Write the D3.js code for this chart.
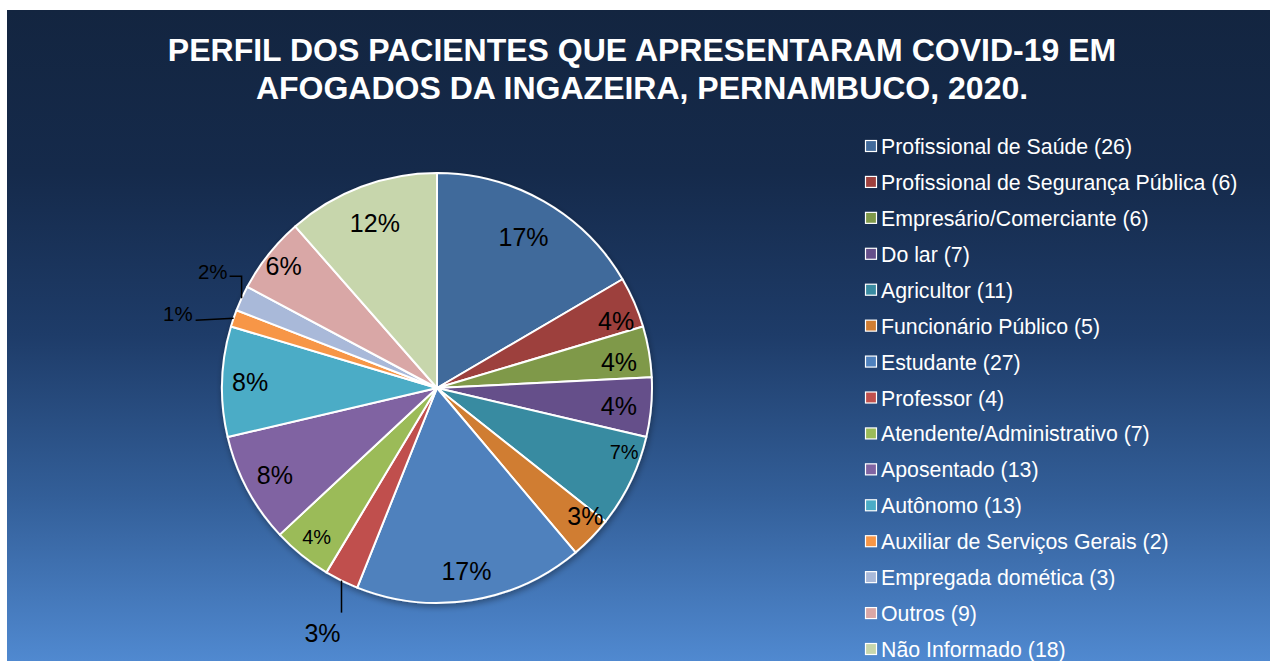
<!DOCTYPE html>
<html>
<head>
<meta charset="utf-8">
<script src="https://cdn.jsdelivr.net/npm/d3@7"></script>
<style>
  html, body { margin: 0; padding: 0; background: #ffffff; }
  svg { display: block; }
  text { font-family: "Liberation Sans", Arial, sans-serif; }
</style>
</head>
<body>
<svg id="chart" width="1270" height="661"></svg>
<script>
// data
var categories = ["Profissional de Saúde", "Profissional de Segurança Pública", "Empresário/Comerciante",
    "Do lar", "Agricultor", "Funcionário Público", "Estudante", "Professor", "Atendente/Administrativo",
    "Aposentado", "Autônomo", "Auxiliar de Serviços Gerais", "Empregada domética", "Outros", "Não Informado"];
var counts = [26, 6, 6, 7, 11, 5, 27, 4, 7, 13, 13, 2, 3, 9, 18];
var pctLabels = ["17%", "4%", "4%", "4%", "7%", "3%", "17%", "3%", "4%", "8%", "8%", "1%", "2%", "6%", "12%"];
var titleLines = ["PERFIL DOS PACIENTES QUE APRESENTARAM COVID-19 EM", "AFOGADOS DA INGAZEIRA, PERNAMBUCO, 2020."];

var colors = ["#416a9b", "#9d403d", "#7f994a", "#654f8a", "#398ba1", "#d07d32", "#4f81bd", "#c0504d",
    "#9bbb59", "#8064a2", "#4bacc6", "#f79646", "#a9b9d9", "#d9a7a6", "#c7d6ac"];

// label placement (excel best fit, roughly)
var labelRadius = [0.81, 0.89, 0.855, 0.85, 0.92, 0.91, 0.86, 1, 0.89, 0.855, 0.87, 1, 1, 0.91, 0.82];
var labelShift = [0, 0.05, 0.03, 0.01, -0.12, -0.06, 0, 0, 0, 0, 0, 0, 0, 0, 0]; // radians
var smallLabels = [4, 8, 11, 12];

var svg = d3.select("#chart");
var W = 1270, H = 661;

var defs = svg.append("defs");
var grad = defs.append("linearGradient")
    .attr("id", "bg")
    .attr("x1", 0).attr("y1", 0).attr("x2", 0).attr("y2", 1);
[[0, "#132540"], [0.25, "#152a4b"], [0.5, "#1e3c69"], [0.75, "#335f99"], [1, "#5089d0"]].forEach(function(s) {
    grad.append("stop").attr("offset", s[0]).attr("stop-color", s[1]);
});
var shadow = defs.append("filter").attr("id", "shadow")
    .attr("x", "-10%").attr("y", "-10%").attr("width", "120%").attr("height", "120%");
shadow.append("feDropShadow")
    .attr("dx", 1).attr("dy", 3).attr("stdDeviation", 3)
    .attr("flood-color", "#000").attr("flood-opacity", 0.35);

svg.append("rect")
    .attr("x", 7).attr("y", 10)
    .attr("width", W - 7).attr("height", H - 10)
    .attr("fill", "url(#bg)");

// title
svg.append("g").selectAll("text")
    .data(titleLines)
    .join("text")
    .attr("x", 642)
    .attr("y", function(d, i) { return 61 + i * 38; })
    .attr("text-anchor", "middle")
    .attr("fill", "#ffffff")
    .style("font-size", "32px")
    .style("font-weight", "bold")
    .text(function(d) { return d; });

// pie
var cx = 437, cy = 388, r = 215;
var pie = d3.pie().sort(null).value(function(d) { return d; });
var arcs = pie(counts);
var arc = d3.arc().innerRadius(0).outerRadius(r);

var g = svg.append("g").attr("transform", "translate(" + cx + "," + cy + ")");

g.append("g")
    .attr("filter", "url(#shadow)")
    .selectAll("path")
    .data(arcs)
    .join("path")
    .attr("d", arc)
    .attr("fill", function(d, i) { return colors[i]; })
    .attr("stroke", "#ffffff")
    .attr("stroke-width", 2)
    .attr("stroke-linejoin", "round");

function midAngle(d) { return (d.startAngle + d.endAngle) / 2; }
function polar(a, rad) { return [Math.sin(a) * rad, -Math.cos(a) * rad]; }

var inside = arcs.filter(function(d, i) { return [7, 11, 12].indexOf(i) < 0; });

g.append("g").selectAll("text")
    .data(inside)
    .join("text")
    .attr("transform", function(d) {
        var p = polar(midAngle(d) + labelShift[d.index], r * labelRadius[d.index]);
        return "translate(" + p[0] + "," + p[1] + ")";
    })
    .attr("text-anchor", "middle")
    .attr("dy", "0.36em")
    .attr("fill", "#000000")
    .style("font-size", function(d) { return smallLabels.indexOf(d.index) >= 0 ? "20px" : "25px"; })
    .text(function(d) { return pctLabels[d.index]; });

// outside labels with leader lines
var line = d3.line();
var leaders = g.append("g");

// Professor: straight down
var dP = arcs[7], eP = polar(midAngle(dP), r);
leaders.append("path")
    .attr("d", line([eP, [eP[0], eP[1] + 32]]))
    .attr("stroke", "#000").attr("stroke-width", 1.5).attr("fill", "none");
leaders.append("text")
    .attr("x", eP[0] - 19).attr("y", eP[1] + 61)
    .attr("text-anchor", "middle")
    .style("font-size", "25px")
    .text(pctLabels[7]);

// Auxiliar: left
var dA = arcs[11], eA = polar(midAngle(dA), r);
leaders.append("path")
    .attr("d", line([eA, [eA[0] - 38, eA[1] + 2]]))
    .attr("stroke", "#000").attr("stroke-width", 1.5).attr("fill", "none");
leaders.append("text")
    .attr("x", eA[0] - 41).attr("y", eA[1] + 3)
    .attr("text-anchor", "end")
    .style("font-size", "20.5px")
    .text(pctLabels[11]);

// Empregada: up then left
var dE = arcs[12], eE = polar(midAngle(dE), r);
leaders.append("path")
    .attr("d", line([eE, [eE[0], eE[1] - 22], [eE[0] - 12, eE[1] - 22]]))
    .attr("stroke", "#000").attr("stroke-width", 1.5).attr("fill", "none");
leaders.append("text")
    .attr("x", eE[0] - 14).attr("y", eE[1] - 19)
    .attr("text-anchor", "end")
    .style("font-size", "20.5px")
    .text(pctLabels[12]);

// legend
var legendY = d3.scalePoint()
    .domain(d3.range(categories.length))
    .range([146, 649]);

var leg = svg.append("g").selectAll("g")
    .data(categories)
    .join("g")
    .attr("transform", function(d, i) { return "translate(865," + legendY(i) + ")"; });

leg.append("rect")
    .attr("x", 0.5).attr("y", -5.5)
    .attr("width", 11).attr("height", 11)
    .attr("fill", function(d, i) { return colors[i]; })
    .attr("stroke", "#ffffff")
    .attr("stroke-width", 1.2);

leg.append("text")
    .attr("x", 16)
    .attr("y", 8)
    .attr("fill", "#ffffff")
    .style("font-size", "21.3px")
    .text(function(d, i) { return d + " (" + counts[i] + ")"; });
</script>
</body>
</html>
